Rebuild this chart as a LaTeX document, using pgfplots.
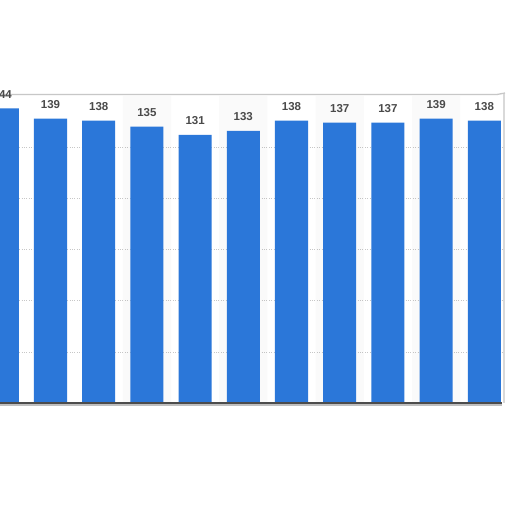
\documentclass[border=0pt]{standalone}
\usepackage{pgfplots}
\pgfplotsset{compat=1.18}
\usepackage{fontspec}
\setmainfont{Liberation Sans}
\definecolor{barblue}{HTML}{2B77D9}
\definecolor{lbl}{HTML}{4A4A4A}
\begin{document}
\begin{tikzpicture}
\useasboundingbox (0,0) rectangle (512pt,512pt);
\clip (0,0) rectangle (512pt,512pt);
\fill[white] (0,0) rectangle (512pt,512pt);
\begin{axis}[
  at={(0pt,109pt)}, anchor=south west, scale only axis,
  width=502pt, height=307pt,
  xmin=-0.0477, xmax=10.367, ymin=0, ymax=150,
  clip=false,
  /pgf/number format/assume math mode=true,
  axis line style={draw=none},
  xtick=\empty,
  ytick={25,50,75,100,125},
  yticklabels={},
  major tick length=0pt,
  ymajorgrids,
  grid style={dotted, black!22, line width=0.6pt},
]
\addplot[ybar, bar width=1, bar shift=0pt, fill=black, fill opacity=0.02, draw=none]
  coordinates {(3,150)(5,150)(7,150)(9,150)};
\addplot[ybar, bar width=0.685, bar shift=0pt, fill=barblue, draw=none,
  nodes near coords={\pgfmathprintnumber[assume math mode=true]{\pgfplotspointmeta}},
  nodes near coords style={font=\bfseries\fontsize{11.5}{12}\selectfont, text=lbl, anchor=center, yshift=14pt}]
  coordinates {(0,144)(1,139)(2,138)(3,135)(4,131)(5,133)(6,138)(7,137)(8,137)(9,139)(10,138)};
\draw[black!22, line width=1.3pt] ([yshift=1.5pt]rel axis cs:0,1) -- ([yshift=1.5pt,xshift=-5pt]rel axis cs:1,1)
  .. controls ([yshift=2pt,xshift=-1pt]rel axis cs:1,1) .. ([yshift=3pt,xshift=3pt]rel axis cs:1,1);
\draw[black!15, line width=2.2pt] ([xshift=2pt,yshift=2pt]rel axis cs:1,1) -- ([xshift=2pt]rel axis cs:1,0);
\draw[black!70, line width=1.1pt] (rel axis cs:0,0) -- (rel axis cs:1,0);
\draw[black!25, line width=1.5pt] ([yshift=-2pt]rel axis cs:0,0) -- ([yshift=-2pt]rel axis cs:1,0);
\end{axis}
\end{tikzpicture}
\end{document}
